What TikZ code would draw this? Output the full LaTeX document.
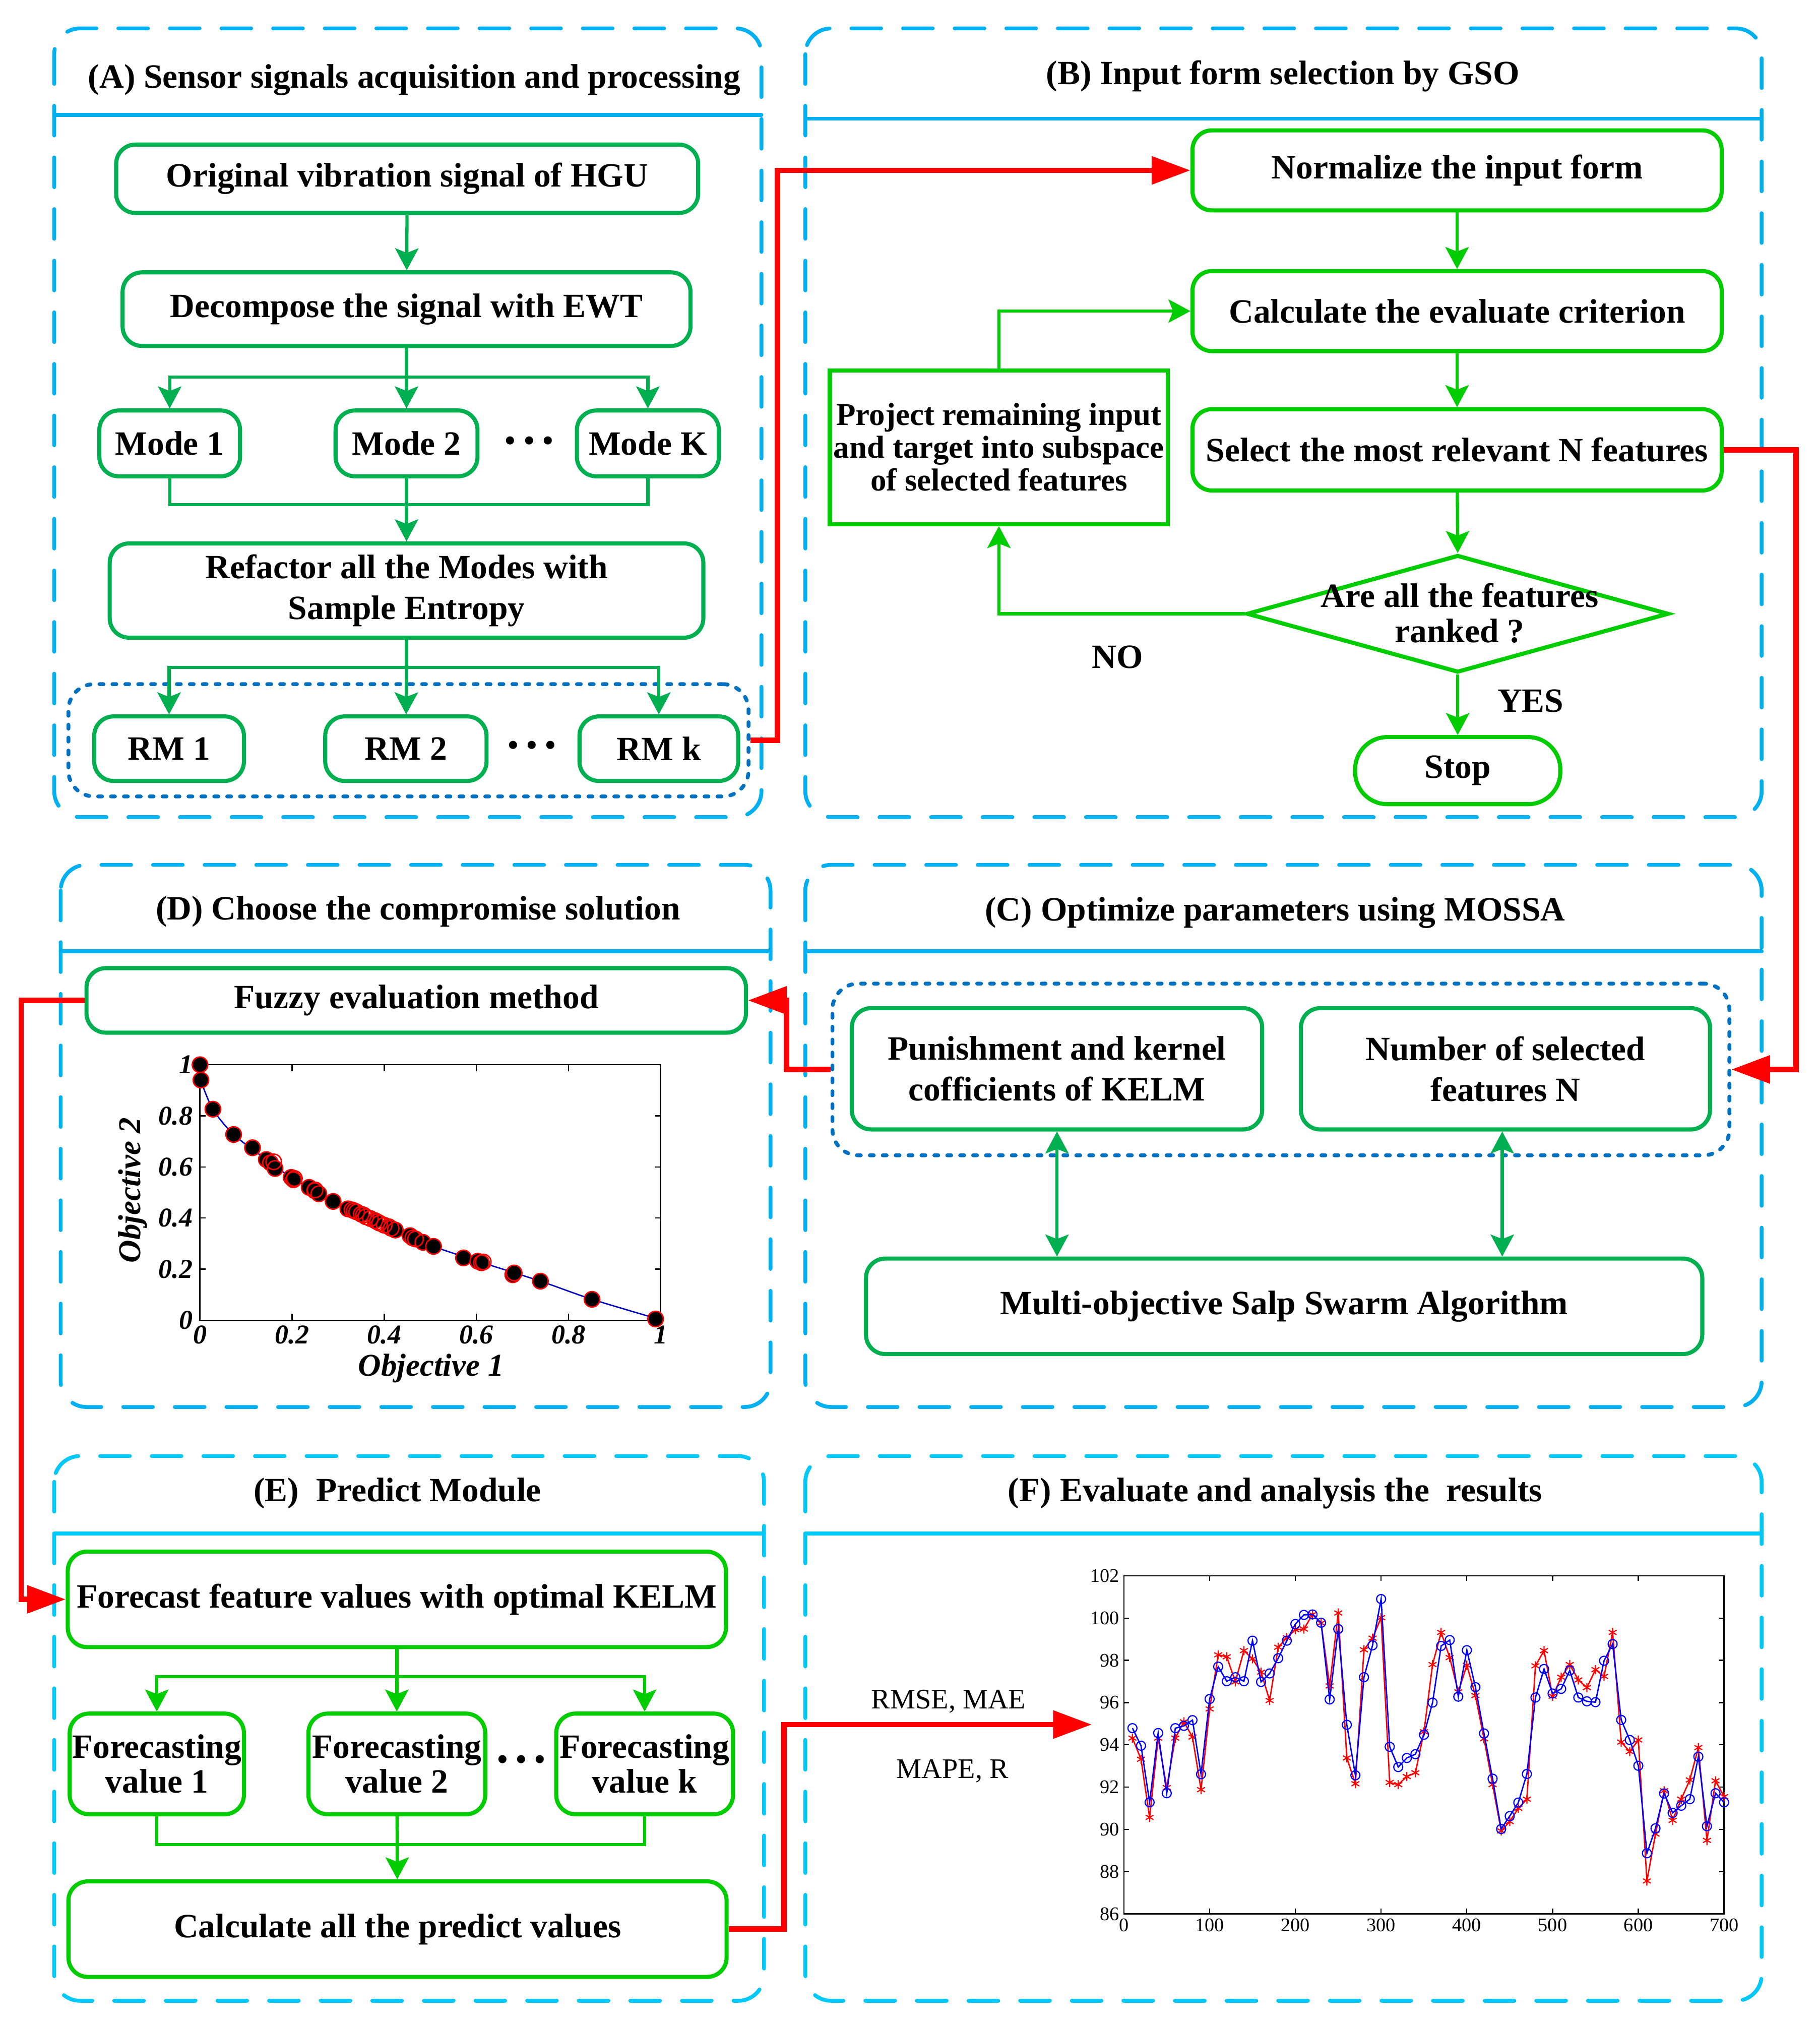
\documentclass[tikz,border=0pt]{standalone}
\usepackage{fontspec}
\setmainfont{Liberation Serif}
\usetikzlibrary{shapes.geometric,arrows.meta,plotmarks}
\definecolor{panelblue}{RGB}{0,176,240}
\definecolor{panelcyan}{RGB}{0,200,248}
\definecolor{grpblue}{RGB}{0,112,192}
\definecolor{boxgreen}{RGB}{0,176,80}
\definecolor{limegreen}{RGB}{0,204,0}
\newcommand\tridots{{\fontsize{15}{15}\selectfont\textbullet\hspace{3pt}\textbullet\hspace{3pt}\textbullet}}

\begin{document}
\begin{tikzpicture}[x=0.02cm, y=-0.02cm]
  \tikzset{panel/.style={draw=#1, line width=1.7pt, line cap=round, dash pattern=on 0.46cm off 0.34cm, rounded corners=0.4cm},
    panel/.default=panelblue,
    headline/.style={draw=#1, line width=1.7pt, line cap=round},
    headline/.default=panelblue,
    paneltitle/.style={font=\bfseries\fontsize{15}{18}\selectfont},
    gbox/.style={draw=#1, line width=1.8pt, rounded corners=0.3cm, fill=white, align=center, inner sep=1pt, font=\bfseries\fontsize{15}{18}\selectfont},
    gbox/.default=boxgreen,
    wh/.style 2 args={minimum width=#1*0.02cm, minimum height=#2*0.02cm},
    gline/.style={draw=#1, line width=1.4pt},
    gline/.default=boxgreen,
    garrow/.style={draw=#1, line width=1.4pt, -{Stealth[length=0.34cm, width=0.36cm, inset=0.07cm]}},
    garrow/.default=boxgreen,
    gdarrow/.style={draw=boxgreen, line width=1.4pt, {Stealth[length=0.34cm, width=0.36cm, inset=0.07cm]}-{Stealth[length=0.34cm, width=0.36cm, inset=0.07cm]}},
    rarrow/.style={draw=red, line width=2.4pt, -{Triangle[length=0.6cm, width=0.42cm]}},
    grp/.style={draw=grpblue, line width=1.7pt, line cap=round, dash pattern=on 0.06cm off 0.14cm, rounded corners=0.4cm, inner sep=0pt},
    plain/.style={font=\bfseries\fontsize{15}{18}\selectfont, align=center},
    axlab/.style={font=\bfseries\itshape\fontsize{12}{12}\selectfont, inner sep=1pt},
    ticklab/.style={font=\fontsize{8.5}{8.5}\selectfont, inner sep=1pt}}
  \useasboundingbox (0,0) rectangle (1410,1568);

  % panels
  \draw[panel] (42,22) rectangle (590,633);
  \draw[headline] (42,89) -- (590,89);
  \node[paneltitle] (ttlA) at (321,62) {(A) Sensor signals acquisition and processing};
  \draw[panel] (624,22) rectangle (1365,633);
  \draw[headline] (624,92) -- (1365,92);
  \node[paneltitle] (ttlB) at (994,59) {(B) Input form selection by GSO};
  \draw[panel] (47,670) rectangle (597,1090);
  \draw[headline] (47,737) -- (597,737);
  \node[paneltitle] (ttlD) at (324,706) {(D) Choose the compromise solution};
  \draw[panel] (624,670) rectangle (1365,1090);
  \draw[headline] (624,737) -- (1365,737);
  \node[paneltitle] (ttlC) at (988,707) {(C) Optimize parameters using MOSSA};
  \draw[panel=panelcyan] (42,1128) rectangle (592,1550);
  \draw[headline=panelcyan] (42,1188) -- (592,1188);
  \node[paneltitle] (ttlE) at (308,1157) {(E)\ \ Predict Module};
  \draw[panel=panelcyan] (624,1128) rectangle (1365,1550);
  \draw[headline=panelcyan] (624,1188) -- (1365,1188);
  \node[paneltitle] (ttlF) at (988,1157) {(F) Evaluate and analysis the\ \ results};

  % (A)
  \node[gbox, wh={451}{53}] (orig) at (315.5,138.5) {Original vibration signal of HGU};
  \node[gbox, wh={440}{57}] (decomp) at (315,239.5) {Decompose the signal with EWT};
  \node[gbox, wh={109}{51}] (mode1) at (131.5,343.5) {Mode 1};
  \node[gbox, wh={110}{51}] (mode2) at (315,343.5) {Mode 2};
  \node[gbox, wh={110}{51}] (modeK) at (502,343.5) {Mode K};
  \node (dotsA) at (410,344) {\tridots};
  \node[gbox, wh={460}{73}] (refac) at (315,457.5) {Refactor all the Modes with\\Sample Entropy};
  \node[grp, wh={527}{87}] (grpA) at (316.5,573.5) {};
  \node[gbox, wh={116}{50}] (rm1) at (131,580) {RM 1};
  \node[gbox, wh={125}{50}] (rm2) at (314.5,580) {RM 2};
  \node[gbox, wh={123}{50}] (rmk) at (510.5,580) {RM k};
  \node (dotsB) at (412,580) {\tridots};
  \coordinate (splitA) at (315,292);
  \coordinate (mergeA) at (315,391);
  \coordinate (splitB) at (315,517);
  \draw[garrow] (orig) -- (decomp);
  \draw[gline] (decomp) -- (splitA);
  \draw[garrow] (splitA) -| (mode1);
  \draw[garrow] (splitA) -- (mode2);
  \draw[garrow] (splitA) -| (modeK);
  \draw[gline] (mode1) |- (mergeA);
  \draw[gline] (modeK) |- (mergeA);
  \draw[garrow] (mode2) -- (refac);
  \draw[gline] (refac) -- (splitB);
  \draw[garrow] (splitB) -| (rm1);
  \draw[garrow] (splitB) -- (rm2);
  \draw[garrow] (splitB) -| (rmk);

  % (B)
  \node[gbox=limegreen, wh={410}{62}] (norm) at (1129,132) {Normalize the input form};
  \node[gbox=limegreen, wh={410}{62}] (calc) at (1129,241) {Calculate the evaluate criterion};
  \node[gbox=limegreen, wh={410}{63}] (sel) at (1129,348.5) {Select the most relevant N features};
  \node[gbox=limegreen, sharp corners, wh={262}{119}, font=\bfseries\fontsize{14}{14.5}\selectfont] (proj) at (774,346.5) {Project remaining input\\and target into subspace\\of selected features};
  \node[draw=limegreen, line width=1.8pt, diamond, fill=white, inner sep=0pt, wh={327}{91}] (dia) at (1129.5,475.5) {};
  \node[plain, font=\bfseries\fontsize{15}{15.5}\selectfont] (diatxt) at (1131,475) {Are all the features\\ranked ?};
  \node[gbox=limegreen, rounded corners=0.5cm, wh={159}{52}] (stop) at (1129.5,597) {Stop};
  \node[plain] (no) at (866,509) {NO};
  \node[plain] (yes) at (1186,543) {YES};
  \draw[garrow=limegreen] (norm) -- (calc);
  \draw[garrow=limegreen] (calc) -- (sel);
  \draw[garrow=limegreen] (sel) -- (dia.north);
  \draw[garrow=limegreen] (dia.south) -- (stop);
  \draw[garrow=limegreen] (proj.north) |- (calc.west);
  \draw[garrow=limegreen] (dia.west) -| (proj.south);

  % (C)
  \node[grp, wh={695}{133}] (grpC) at (992.5,828.5) {};
  \node[gbox, wh={318}{94}] (pun) at (819,828) {Punishment and kernel\\cofficients of KELM};
  \node[gbox, wh={317}{94}] (num) at (1166.5,828) {Number of selected\\features N};
  \node[gbox, wh={648}{74}] (mossa) at (995,1012) {Multi-objective Salp Swarm Algorithm};
  \draw[gdarrow] (pun.south) -- (pun.south |- mossa.north);
  \draw[gdarrow] ([xshift=-0.05cm]num.south) -- ([xshift=-0.05cm]num.south |- mossa.north);

  % (D)
  \node[gbox, wh={511}{50}] (fuzzy) at (322.5,775) {Fuzzy evaluation method};
  \begin{scope}[shift={(3.1cm,-20.46cm)}, x=7.14cm, y=3.96cm]
    \draw[line width=0.6pt] (0,0) rectangle (1,1);
    \foreach \t [count=\i] in {0,0.2,0.4,0.6,0.8,1}{
      \draw[line width=0.5pt] (\t,0) -- ++(0,0.025) (\t,1) -- ++(0,-0.025)
        (0,\t) -- ++(0.012,0) (1,\t) -- ++(-0.012,0);
      \node[axlab, below] (ox\i) at (\t,-0.01) {\t};
      \node[axlab, left] (oy\i) at (-0.01,\t) {\t};
    }
    \draw[blue!75!black, line width=0.6pt] plot[smooth] coordinates {(0,1) (0.002,0.94) (0.028,0.826) (0.073,0.727) (0.144,0.629) (0.198,0.559) (0.289,0.465) (0.424,0.353) (0.507,0.289) (0.603,0.231) (0.739,0.153) (0.851,0.082) (1,0.002)};
    \foreach \p in {(0,1), (0.002,0.94), (0.028,0.826), (0.073,0.727), (0.114,0.675), (0.144,0.629), (0.153,0.616), (0.163,0.594), (0.198,0.559), (0.203,0.55), (0.237,0.52), (0.249,0.507), (0.258,0.495), (0.289,0.465), (0.321,0.436), (0.335,0.428), (0.35,0.415), (0.38,0.39), (0.41,0.366), (0.424,0.353), (0.456,0.331), (0.462,0.322), (0.484,0.305), (0.507,0.289), (0.572,0.244), (0.603,0.231), (0.611,0.225), (0.679,0.178), (0.682,0.185), (0.739,0.153), (0.851,0.082), (0.989,0.005)}
      \filldraw[fill=black, draw=red, line width=0.6pt] \p circle (0.12cm);
    \foreach \p in {(0.16,0.62), (0.205,0.555), (0.25,0.51), (0.33,0.432), (0.34,0.424), (0.355,0.412), (0.36,0.405), (0.37,0.398), (0.385,0.385), (0.39,0.38), (0.40,0.372), (0.415,0.36), (0.468,0.318), (0.615,0.228)}
      \draw[red, line width=0.6pt] \p circle (0.12cm);
  \end{scope}
  \node[font=\bfseries\itshape\fontsize{14}{14}\selectfont] (obj1) at (334,1060) {Objective 1};
  \node[font=\bfseries\itshape\fontsize{14}{14}\selectfont, rotate=90] (obj2) at (103,922) {Objective 2};

  % (E)
  \node[gbox=limegreen, wh={510}{74}] (fcast) at (307.5,1239) {Forecast feature values with optimal KELM};
  \node[gbox=limegreen, wh={135}{78}, font=\bfseries\fontsize{15}{15.5}\selectfont] (fv1) at (121.5,1366.5) {Forecasting\\value 1};
  \node[gbox=limegreen, wh={137}{78}, font=\bfseries\fontsize{15}{15.5}\selectfont] (fv2) at (307.5,1366.5) {Forecasting\\value 2};
  \node[gbox=limegreen, wh={137}{78}, font=\bfseries\fontsize{15}{15.5}\selectfont] (fvk) at (499.5,1366.5) {Forecasting\\value k};
  \node (dotsC) at (404,1366) {\tridots};
  \node[gbox=limegreen, wh={510}{74}] (calcall) at (308,1494.5) {Calculate all the predict values};
  \coordinate (splitE) at (307.5,1299);
  \coordinate (mergeE) at (307.5,1429);
  \draw[gline=limegreen] (fcast) -- (splitE);
  \draw[garrow=limegreen] (splitE) -| (fv1);
  \draw[garrow=limegreen] (splitE) -- (fv2);
  \draw[garrow=limegreen] (splitE) -| (fvk);
  \draw[gline=limegreen] (fv1) |- (mergeE);
  \draw[gline=limegreen] (fvk) |- (mergeE);
  \draw[garrow=limegreen] (fv2) -- (calcall);

  % (F)
  \begin{scope}[shift={(17.42cm,-57.825cm)}, x=0.013286cm, y=0.3275cm]
    \draw[line width=0.6pt] (0,86) rectangle (700,102);
    \foreach \t [count=\i] in {0,100,...,700}{
      \draw[line width=0.5pt] (\t,86) -- ++(0,0.25) (\t,102) -- ++(0,-0.25);
      \node[ticklab, below] (fx\i) at (\t,85.9) {\t};
    }
    \foreach \t [count=\i] in {86,88,...,102}{
      \draw[line width=0.5pt] (0,\t) -- ++(6,0) (700,\t) -- ++(-6,0);
      \node[ticklab, left] (fy\i) at (-2,\t) {\t};
    }
    \draw[red, line width=0.6pt] plot[mark=asterisk, mark size=2pt, mark options={line width=0.5pt}] coordinates {(10,94.32) (20,93.32) (30,90.57) (40,94.32) (50,91.98) (60,94.32) (70,95.09) (80,94.37) (90,91.88) (100,95.7) (110,98.26) (120,98.17) (130,96.98) (140,98.46) (150,98.07) (160,97.44) (170,96.1) (180,98.62) (190,99.07) (200,99.45) (210,99.48) (220,100.17) (230,99.76) (240,96.79) (250,100.24) (260,93.38) (270,92.16) (280,98.5) (290,99.05) (300,100.02) (310,92.22) (320,92.12) (330,92.5) (340,92.68) (350,94.62) (360,97.8) (370,99.32) (380,98.13) (390,96.51) (400,97.77) (410,96.33) (420,94.29) (430,92.12) (440,89.93) (450,90.37) (460,91.0) (470,91.43) (480,97.74) (490,98.46) (500,96.3) (510,97.2) (520,97.8) (530,97.07) (540,96.71) (550,97.56) (560,97.24) (570,99.32) (580,94.13) (590,93.68) (600,94.23) (610,87.56) (620,89.78) (630,91.83) (640,90.43) (650,91.43) (660,92.34) (670,93.87) (680,89.48) (690,92.3) (700,91.55)};
    \draw[blue, line width=0.6pt] plot[mark=o, mark size=2pt, mark options={line width=0.5pt}] coordinates {(10,94.79) (20,93.96) (30,91.28) (40,94.56) (50,91.71) (60,94.79) (70,94.9) (80,95.17) (90,92.61) (100,96.17) (110,97.7) (120,97.01) (130,97.2) (140,97.01) (150,98.93) (160,96.98) (170,97.38) (180,98.1) (190,98.93) (200,99.72) (210,100.15) (220,100.17) (230,99.78) (240,96.15) (250,99.48) (260,94.95) (270,92.56) (280,97.2) (290,98.71) (300,100.9) (310,93.91) (320,92.95) (330,93.38) (340,93.56) (350,94.48) (360,96.0) (370,98.68) (380,98.96) (390,96.28) (400,98.48) (410,96.73) (420,94.54) (430,92.4) (440,90.02) (450,90.63) (460,91.27) (470,92.62) (480,96.24) (490,97.59) (500,96.43) (510,96.65) (520,97.52) (530,96.24) (540,96.06) (550,96.02) (560,97.98) (570,98.77) (580,95.18) (590,94.23) (600,93.01) (610,88.87) (620,90.05) (630,91.7) (640,90.78) (650,91.12) (660,91.43) (670,93.44) (680,90.15) (690,91.71) (700,91.28)};
  \end{scope}
  \coordinate (chartin) at (846,1336);
  \node[font=\fontsize{12.5}{12.5}\selectfont] (rmse) at (735,1318) {RMSE, MAE};
  \node[font=\fontsize{12.5}{12.5}\selectfont] (mape) at (738,1372) {MAPE, R};

  % red links between panels
  \draw[rarrow] (grpA.east) -- ++(21,0) |- (norm.west);
  \draw[rarrow] (sel.east) -- ++(56,0) |- (grpC.east);
  \draw[rarrow] (grpC.west) -- ++(-34,0) |- (fuzzy.east);
  \draw[rarrow] (fuzzy.west) -- ++(-49,0) |- (fcast.west);
  \draw[rarrow] (calcall.east) -- ++(43,0) |- (chartin);
\end{tikzpicture}
\end{document}
